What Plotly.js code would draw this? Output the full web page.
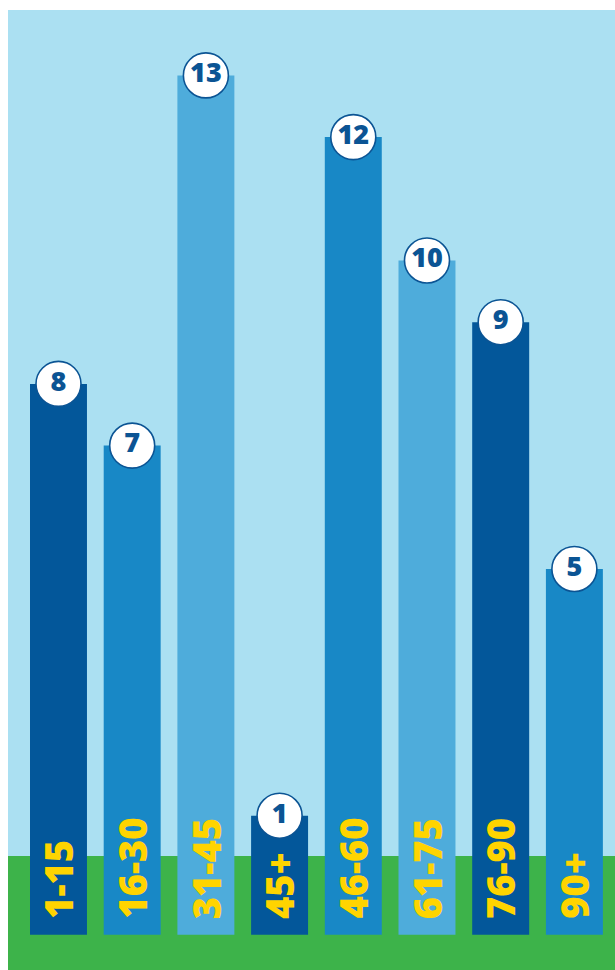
<!DOCTYPE html>
<html>
<head>
<meta charset="utf-8">
<script src="https://cdn.plot.ly/plotly-3.0.1.min.js"></script>
<style>
  html, body { margin: 0; padding: 0; background: #ffffff; }
  #chart { width: 615px; height: 970px; }
</style>
</head>
<body>
<div id="chart"></div>
<script>
// ---- Data ----
const categories = ["1-15", "16-30", "31-45", "45+", "46-60", "61-75", "76-90", "90+"];
const values = [8, 7, 13, 1, 12, 10, 9, 5];
const barColors = ["#03579a", "#1888c6", "#4eacdb", "#03579a", "#1888c6", "#4eacdb", "#03579a", "#1888c6"];

// ---- Style constants ----
const BAR_BASE = -0.93;          // bars extend a little below zero into the grass
const SKY = "#abe0f2";
const GRASS = "#3db34a";
const YELLOW = "#ffd400";
const NAVY = "#0b5494";
const FONT = "'Open Sans', 'DejaVu Sans', sans-serif";

const bars = {
  type: "bar",
  x: categories,
  y: values.map(v => v - BAR_BASE),
  base: BAR_BASE,
  width: 0.773,
  marker: { color: barColors, line: { width: 0 } },
  hoverinfo: "skip",
  showlegend: false
};

const bubbles = {
  type: "scatter",
  mode: "markers+text",
  x: categories,
  y: values,
  text: values.map(String),
  textposition: "middle center",
  textfont: { family: FONT, size: 27, color: NAVY, weight: 800 },
  marker: { size: 45, color: "#ffffff", line: { width: 1.6, color: NAVY } },
  hoverinfo: "skip",
  showlegend: false,
  cliponaxis: false
};

const labelAnnotations = categories.map(c => ({
  x: c, y: BAR_BASE, xref: "x", yref: "y",
  text: c, showarrow: false, textangle: -90,
  xanchor: "center", yanchor: "bottom", yshift: 14,
  font: { family: FONT, size: 38, color: YELLOW, weight: 800 }
}));

const layout = {
  width: 615, height: 970,
  margin: { l: 8, r: 0, t: 10, b: 0, pad: 0 },
  paper_bgcolor: "#ffffff",
  plot_bgcolor: SKY,
  xaxis: { type: "category", range: [-0.685, 7.551], showgrid: false, zeroline: false,
           showticklabels: false, showline: false, ticks: "", fixedrange: true },
  yaxis: { range: [-1.5, 14.06], showgrid: false, zeroline: false,
           showticklabels: false, showline: false, ticks: "", fixedrange: true },
  shapes: [{
    type: "rect", xref: "paper", yref: "paper", x0: 0, x1: 1, y0: 0, y1: 0.11875,
    fillcolor: GRASS, line: { width: 0 }, layer: "below"
  }],
  annotations: labelAnnotations,
  showlegend: false
};

Plotly.newPlot("chart", [bars, bubbles], layout, { displayModeBar: false, staticPlot: true });
</script>
</body>
</html>
